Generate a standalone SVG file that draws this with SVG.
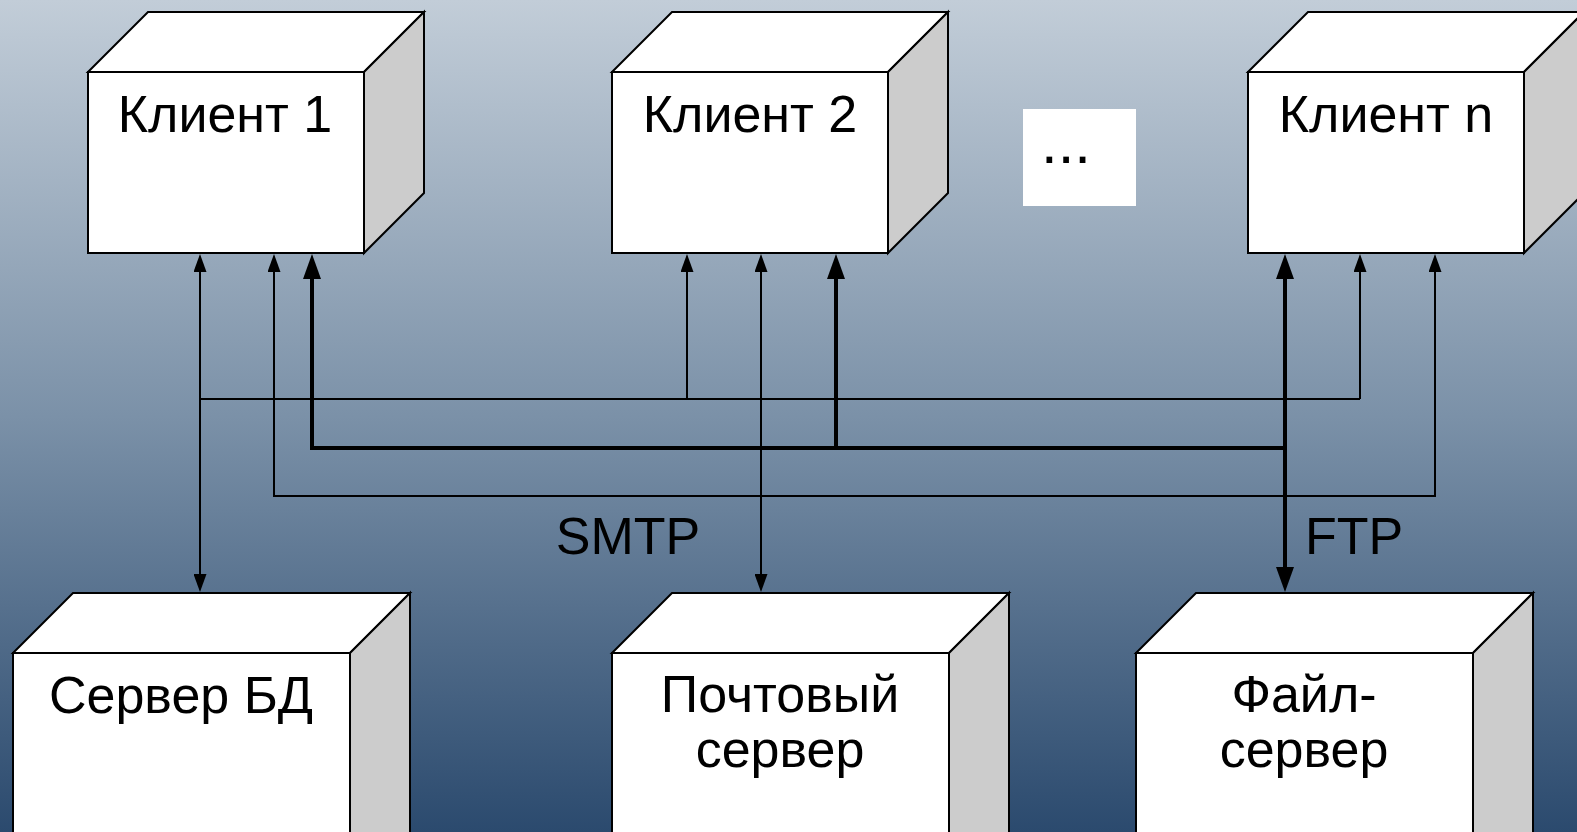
<svg xmlns="http://www.w3.org/2000/svg" width="1577" height="832" viewBox="0 0 1577 832">
<defs>
<linearGradient id="bg" x1="0" y1="0" x2="0" y2="1">
<stop offset="0" stop-color="#c2cdd8"/>
<stop offset="0.5" stop-color="#7b91a8"/>
<stop offset="1" stop-color="#2b4a6e"/>
</linearGradient>
<marker id="ah" markerUnits="userSpaceOnUse" markerWidth="18" markerHeight="13" refX="0" refY="6.5" orient="auto-start-reverse">
<path d="M0,0 L18,6.5 L0,13 z" fill="#000"/>
</marker>
<marker id="ahT" markerUnits="userSpaceOnUse" markerWidth="25" markerHeight="18" refX="0" refY="9" orient="auto-start-reverse">
<path d="M0,0 L25,9 L0,18 z" fill="#000"/>
</marker>
</defs>
<style>
.front{fill:#fff;stroke:#000;stroke-width:2;stroke-linejoin:miter}
.top{fill:#fff;stroke:#000;stroke-width:2}
.side{fill:#cccccc;stroke:#000;stroke-width:2}
.lbl{font-family:"Liberation Sans",Arial,sans-serif;font-size:52px;fill:#000;text-anchor:middle}
.thin{fill:none;stroke:#000;stroke-width:2}
.thick{fill:none;stroke:#000;stroke-width:4}
</style>
<rect x="0" y="0" width="1577" height="832" fill="url(#bg)"/>

<g id="client1">
<polygon class="top" points="88,72 148,12 424,12 364,72"/>
<polygon class="side" points="364,72 424,12 424,193 364,253"/>
<rect class="front" x="88" y="72" width="276" height="181"/>
<text class="lbl" x="225" y="132">Клиент 1</text>
</g>

<g id="client2">
<polygon class="top" points="612,72 672,12 948,12 888,72"/>
<polygon class="side" points="888,72 948,12 948,193 888,253"/>
<rect class="front" x="612" y="72" width="276" height="181"/>
<text class="lbl" x="750" y="132">Клиент 2</text>
</g>

<g id="ellipsis">
<rect x="1023" y="109" width="113" height="97" fill="#fff"/>
<text x="1041" y="163" font-family="'Liberation Sans',Arial,sans-serif" font-size="60">...</text>
</g>

<g id="clientn">
<polygon class="top" points="1248,72 1308,12 1584,12 1524,72"/>
<polygon class="side" points="1524,72 1584,12 1584,193 1524,253"/>
<rect class="front" x="1248" y="72" width="276" height="181"/>
<text class="lbl" x="1386" y="132">Клиент n</text>
</g>

<g id="dbserver">
<polygon class="top" points="13,653 73,593 410,593 350,653"/>
<polygon class="side" points="350,653 410,593 410,840 350,900"/>
<rect class="front" x="13" y="653" width="337" height="250"/>
<text class="lbl" x="181" y="713">Сервер БД</text>
</g>

<g id="mailserver">
<polygon class="top" points="612,653 672,593 1009,593 949,653"/>
<polygon class="side" points="949,653 1009,593 1009,840 949,900"/>
<rect class="front" x="612" y="653" width="337" height="250"/>
<text class="lbl" x="780" y="712">Почтовый</text>
<text class="lbl" x="780" y="767">сервер</text>
</g>

<g id="fileserver">
<polygon class="top" points="1136,653 1196,593 1533,593 1473,653"/>
<polygon class="side" points="1473,653 1533,593 1533,840 1473,900"/>
<rect class="front" x="1136" y="653" width="337" height="250"/>
<text class="lbl" x="1304" y="712">Файл-</text>
<text class="lbl" x="1304" y="767">сервер</text>
</g>

<g id="connectors">
<path class="thin" d="M200,272 V574" marker-start="url(#ah)" marker-end="url(#ah)"/>
<path class="thin" d="M200,399 H1360"/>
<path class="thin" d="M687,399 V272" marker-end="url(#ah)"/>
<path class="thin" d="M1360,399 V272" marker-end="url(#ah)"/>
<path class="thin" d="M761,272 V574" marker-start="url(#ah)" marker-end="url(#ah)"/>
<path class="thin" d="M274,272 V496 H1435 V272" marker-start="url(#ah)" marker-end="url(#ah)"/>
<path class="thick" d="M312,279 V448 H1285" marker-start="url(#ahT)"/>
<path class="thick" d="M836,448 V279" marker-end="url(#ahT)"/>
<path class="thick" d="M1285,279 V567" marker-start="url(#ahT)" marker-end="url(#ahT)"/>
<text class="lbl" x="628" y="554">SMTP</text>
<text class="lbl" x="1354" y="554">FTP</text>
</g>
</svg>
